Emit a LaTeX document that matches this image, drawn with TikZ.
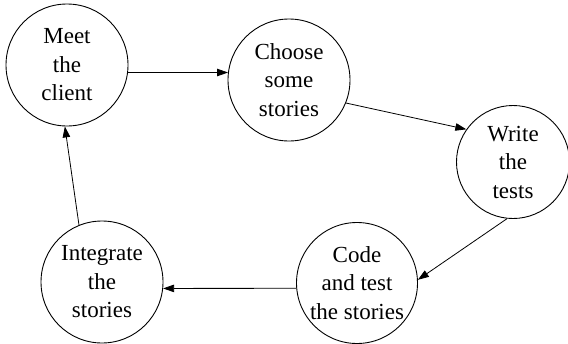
\documentclass[tikz,border=0pt]{standalone}
\usepackage{fontspec}
\setmainfont{Liberation Serif}
\usetikzlibrary{arrows.meta}
\begin{document}
\begin{tikzpicture}[x=1pt,y=-1pt,
  stage/.style={circle, draw, line width=0.9pt, inner sep=0pt, align=center,
    font=\fontsize{23}{28.5}\selectfont},
  flow/.style={line width=0.8pt, -{Triangle[length=11pt,width=7.5pt]}}]
  \useasboundingbox (0,0) rectangle (568,343);
  \node[stage, minimum size=122pt] (meet) at (67,65) {Meet\\the\\client};
  \node[stage, minimum size=122pt] (choose) at (289,80) {Choose\\some\\stories};
  \node[stage, minimum size=113pt] (write) at (513,162) {Write\\the\\tests};
  \node[stage, minimum size=121pt] (code) at (357,283) {Code\\and test\\the stories};
  \node[stage, minimum size=122pt] (integrate) at (102,282) {Integrate\\the\\stories};
  \draw[flow] (meet.-7.5) -- (choose.173);
  \draw[flow] (choose.-22) -- (write.145);
  \draw[flow] (write.-96) -- (code.3);
  \draw[flow] (code.185) -- (integrate.-6);
  \draw[flow] (integrate.112) -- (meet.-92);
\end{tikzpicture}
\end{document}
